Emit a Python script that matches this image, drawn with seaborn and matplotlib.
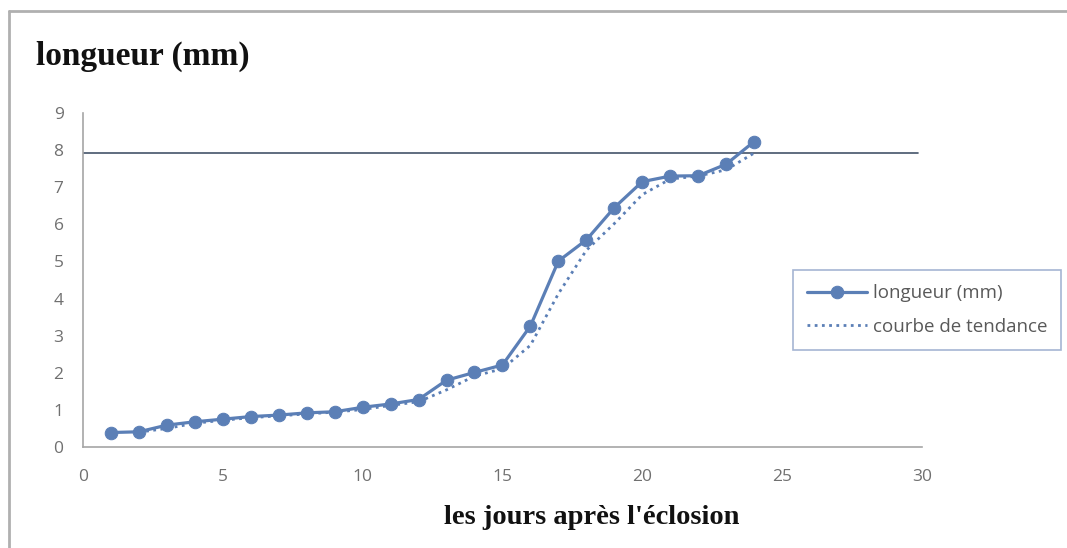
import matplotlib
matplotlib.use("Agg")
import matplotlib.pyplot as plt
import seaborn as sns
import pandas as pd
from matplotlib.lines import Line2D

# Data
jours = list(range(1, 25))
longueur = [0.39, 0.41, 0.59, 0.68, 0.75, 0.82, 0.86, 0.92, 0.95, 1.07, 1.16, 1.28,
            1.80, 2.01, 2.21, 3.26, 5.01, 5.58, 6.45, 7.15, 7.30, 7.31, 7.62, 8.23]
jours_tendance = list(range(2, 25))
tendance = [0.40, 0.50, 0.64, 0.72, 0.79, 0.84, 0.89, 0.94, 1.01, 1.12, 1.22, 1.54,
            1.91, 2.11, 2.74, 4.13, 5.30, 6.02, 6.80, 7.22, 7.30, 7.47, 7.92]
niveau = 7.92
x_ticks = [0, 5, 10, 15, 20, 25, 30]
y_ticks = list(range(0, 10))

sns.set_theme(style="white")
plt.rcParams['font.family'] = ['Open Sans', 'DejaVu Sans']

blue = "#5b7fb6"
fig = plt.figure(figsize=(10.67, 5.48), dpi=100)
ax = fig.add_axes([0.0778, 0.1843, 0.7862, 0.6095])

df = pd.DataFrame({"jours": jours, "longueur": longueur})
dft = pd.DataFrame({"jours": jours_tendance, "tendance": tendance})

sns.lineplot(data=df, x="jours", y="longueur", ax=ax, color=blue, linewidth=2.3,
             marker="o", markersize=9, markeredgecolor=blue, label="longueur (mm)")
sns.lineplot(data=dft, x="jours", y="tendance", ax=ax, color=blue, linewidth=2.0,
             linestyle=(0, (1, 1.6)), label="courbe de tendance")
ax.axhline(niveau, xmin=0, xmax=1.0 - 4/839, color="#44546a", linewidth=1.2, zorder=1)

ax.set_xlim(0, 30)
ax.set_ylim(0, 9)
ax.set_xticks(x_ticks)
ax.set_yticks(y_ticks)
ax.tick_params(axis="both", length=0, labelsize=12.5, labelcolor="#707070")
ax.tick_params(axis="x", pad=16)
ax.tick_params(axis="y", pad=14)
for s in ["top", "right"]:
    ax.spines[s].set_visible(False)
for s in ["left", "bottom"]:
    ax.spines[s].set_color("#a6a6a6")
    ax.spines[s].set_linewidth(1.2)
ax.set_xlabel("")
ax.set_ylabel("")

fig.text(0.034, 0.897, "longueur (mm)", family="Liberation Serif", fontweight="bold",
         fontsize=24, color="#111111", va="center", ha="left")
fig.text(0.555, 0.055, "les jours après l'éclosion", family="Liberation Serif",
         fontweight="bold", fontsize=20.5, color="#111111", va="center", ha="center")

leg = ax.legend(loc="upper left", bbox_to_anchor=(793/1067, 1 - 270/548),
                bbox_transform=fig.transFigure, frameon=True, fancybox=False,
                fontsize=13.5, handlelength=3.2, borderpad=0.75, labelspacing=0.85,
                handletextpad=0.3, borderaxespad=0)
leg.get_frame().set_edgecolor("#8fa3c8")
leg.get_frame().set_linewidth(1.2)
for t in leg.get_texts():
    t.set_color("#595959")

# chart-area border (top and left edges visible)
fig.add_artist(Line2D([9/1067, 1.0], [1 - 11/548, 1 - 11/548], transform=fig.transFigure,
                      color="#b0b0b0", linewidth=2.0))
fig.add_artist(Line2D([9/1067, 9/1067], [0.0, 1 - 11/548], transform=fig.transFigure,
                      color="#b0b0b0", linewidth=2.0))

fig.savefig("out.png", dpi=100)
